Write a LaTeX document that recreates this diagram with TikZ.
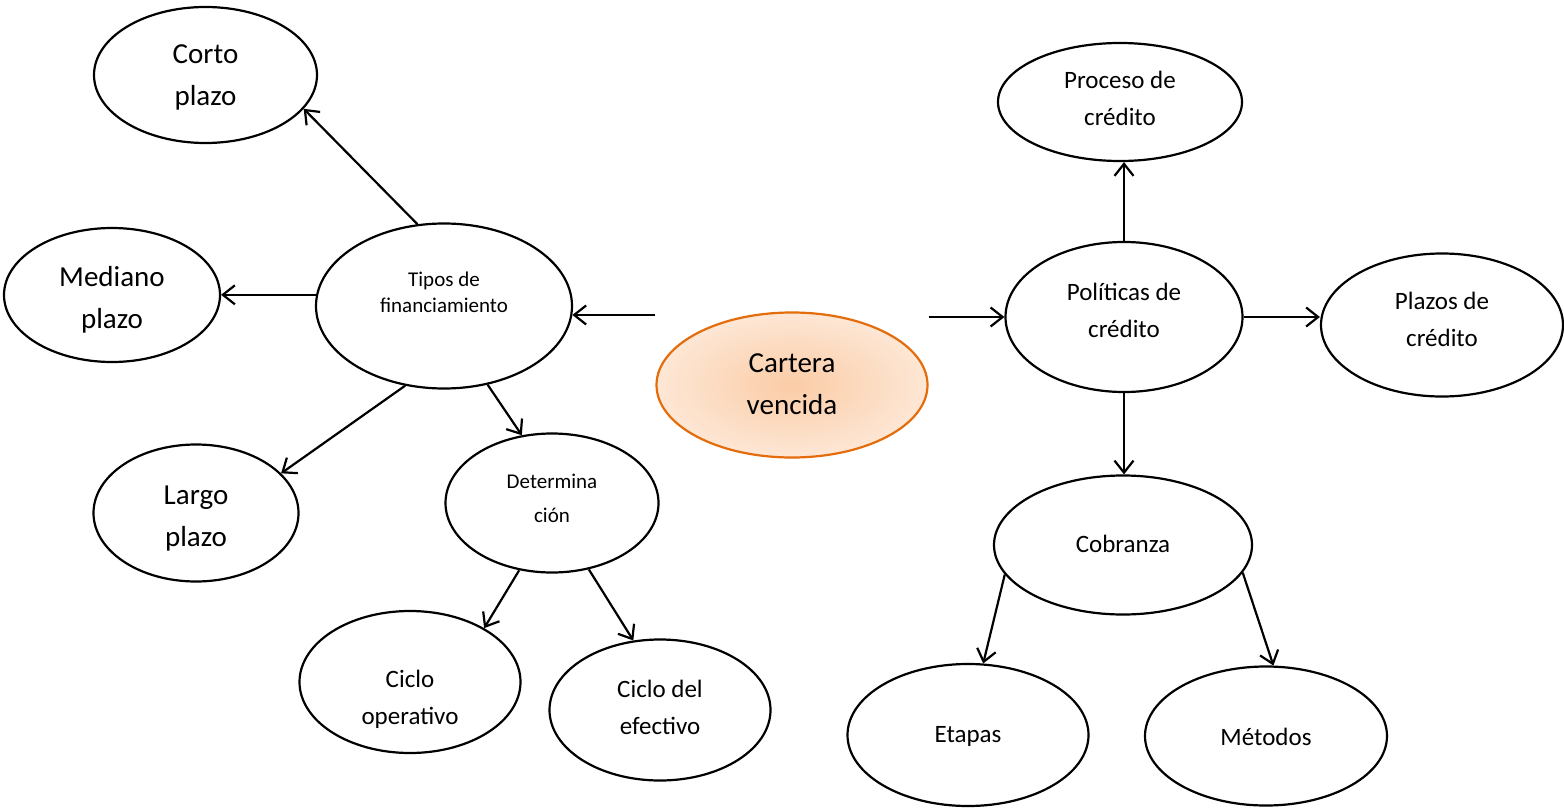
\documentclass[tikz,border=0pt]{standalone}
\usepackage{fontspec}
\setmainfont{Carlito}
\usetikzlibrary{arrows.meta,shapes.geometric}
\definecolor{rim}{HTML}{E46C0A}
\definecolor{peach}{HTML}{FBCCA6}
\definecolor{cream}{HTML}{FDE7D5}

% text of a bubble, lifted (or dropped) by #1 from the centre
\newcommand\bubbletext[2]{\raisebox{\dimexpr#1-.25em\relax}[0pt][0pt]{\begin{tabular}{@{}c@{}}#2\end{tabular}}}

\tikzset{
  bubble/.style={ellipse,draw=black,line width=2.2pt,inner sep=0pt,fill=white},
  bigtext/.style={font=\fontsize{29}{42}\selectfont},
  midtext/.style={font=\fontsize{25}{37}\selectfont},
  smalltext/.style={font=\fontsize{21}{26}\selectfont},
  link/.style={line width=2.2pt,-{Straight Barb[length=12pt,width=19pt,line width=2.2pt]}}
}

\begin{document}
\begin{tikzpicture}[x=1pt,y=-1pt]
    \useasboundingbox (0,0) rectangle (1564,808);

    % centre
    \node[bubble,draw=rim,shading=radial,inner color=peach,outer color=cream,
          minimum width=271pt,minimum height=145pt,bigtext] (cartera) at (792,385) {\bubbletext{1pt}{Cartera\\vencida}};

    % left branch
    \node[bubble,minimum width=256pt,minimum height=165pt,smalltext] (tipos) at (444,306) {\bubbletext{12pt}{Tipos de\\financiamiento}};
    \node[bubble,minimum width=223pt,minimum height=136pt,bigtext] (corto) at (205.5,75) {\bubbletext{0pt}{Corto\\plazo}};
    \node[bubble,minimum width=216pt,minimum height=134pt,bigtext] (mediano) at (112,295) {\bubbletext{-3pt}{Mediano\\plazo}};
    \node[bubble,minimum width=205pt,minimum height=137pt,bigtext] (largo) at (196,513) {\bubbletext{-3.5pt}{Largo\\plazo}};
    \node[bubble,minimum width=213pt,minimum height=139pt,font=\fontsize{21}{34}\selectfont] (determina) at (552,503) {\bubbletext{4pt}{Determina\\ción}};
    \node[bubble,minimum width=221pt,minimum height=142pt,midtext] (cicloop) at (410,682) {\bubbletext{-16.5pt}{Ciclo\\operativo}};
    \node[bubble,minimum width=221pt,minimum height=141pt,midtext] (cicloef) at (660,710) {\bubbletext{1pt}{Ciclo del\\efectivo}};

    % right branch
    \node[bubble,minimum width=237pt,minimum height=150pt,midtext] (politicas) at (1124,317) {\bubbletext{5.5pt}{Políticas de\\crédito}};
    \node[bubble,minimum width=244pt,minimum height=118pt,midtext] (proceso) at (1120,102) {\bubbletext{2.5pt}{Proceso de\\crédito}};
    \node[bubble,minimum width=242pt,minimum height=143pt,midtext] (plazos) at (1442,325) {\bubbletext{4.5pt}{Plazos de\\crédito}};
    \node[bubble,minimum width=258pt,minimum height=139pt,midtext] (cobranza) at (1123,545) {\bubbletext{0pt}{Cobranza}};
    \node[bubble,minimum width=241pt,minimum height=142pt,midtext] (etapas) at (968,735) {\bubbletext{0pt}{Etapas}};
    \node[bubble,minimum width=242pt,minimum height=139pt,midtext] (metodos) at (1266,736) {\bubbletext{-2pt}{Métodos}};

    \draw[link] (tipos.-4 -| cartera.west) -- (tipos.-4);
    \draw[link] (tipos.108) -- (corto.-19);
    \draw[link] (tipos.175) -- (tipos.175 -| mediano.east);
    \draw[link] (tipos.244) -- (largo.25);
    \draw[link] (tipos.-61) -- (determina.114);
    \draw[link] (determina.244) -- (cicloop.36);
    \draw[link] (determina.-61) -- (cicloef.111);

    \draw[link] (cartera.east |- politicas.west) -- (politicas.west);
    \draw[link] (politicas.north) -- (politicas.north |- proceso.south);
    \draw[link] (politicas.east) -- (politicas.east -| plazos.west);
    \draw[link] (politicas.south) -- (politicas.south |- cobranza.north);
    \draw[link] (cobranza.194) -- (etapas.78);
    \draw[link] (cobranza.-13) -- (metodos.84);
\end{tikzpicture}
\end{document}
